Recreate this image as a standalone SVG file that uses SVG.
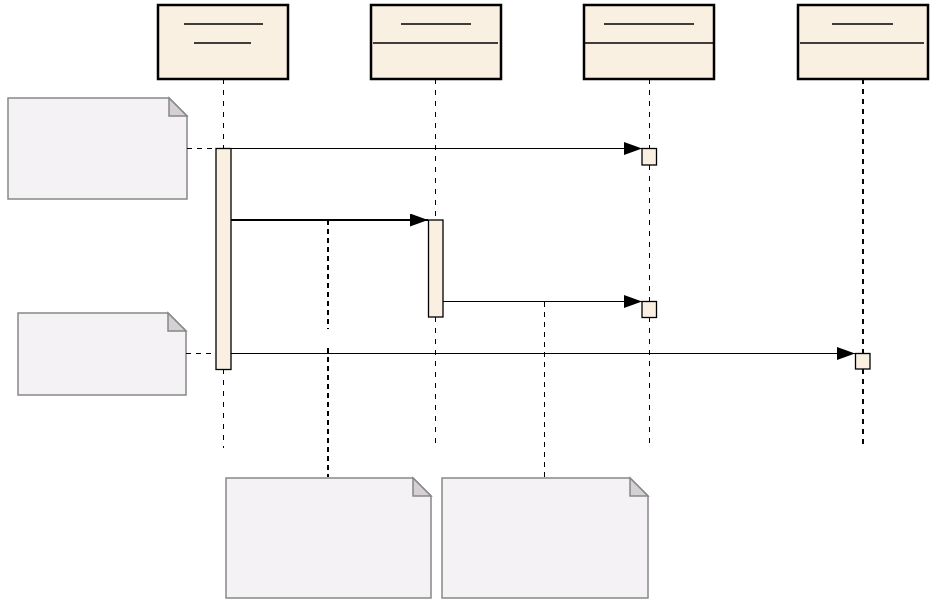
<svg xmlns="http://www.w3.org/2000/svg" width="933" height="606" viewBox="0 0 933 606">
<style>
.head{fill:#faf0e2;stroke:#000;stroke-width:2.5}
.ul{stroke:#000;stroke-width:1.3}
.life{stroke:#000;stroke-width:1;stroke-dasharray:5,6;fill:none}
.lifeb{stroke:#000;stroke-width:2;stroke-dasharray:5,5;fill:none}
.act{fill:#faf0e2;stroke:#000;stroke-width:1.3}
.msg{stroke:#000;stroke-width:1.2;fill:none}
.msgb{stroke:#000;stroke-width:2;fill:none}
.note{fill:#f5f2f5;stroke:#888;stroke-width:1.5}
.fold{fill:#d4d0d4;stroke:#888;stroke-width:1.5}
.nc{stroke:#000;stroke-width:1;stroke-dasharray:5,5;fill:none}
.ncb{stroke:#000;stroke-width:2;stroke-dasharray:5,4;fill:none}
</style>
<defs>
<marker id="arr" markerWidth="18" markerHeight="13" refX="18" refY="6.5" orient="auto" markerUnits="userSpaceOnUse">
<path d="M0,0 L18,6.5 L0,13 Z" fill="#000"/>
</marker>
</defs>
<g id="lifelines">
<path class="life" d="M223.5,79 V148 M223.5,369 V448"/>
<path class="life" d="M435.5,79 V220 M435.5,317 V448"/>
<path class="life" d="M649.5,79 V148 M649.5,165 V301 M649.5,317 V448"/>
<path class="lifeb" d="M863,79 V353 M863,369 V448"/>
</g>
<g id="obj1">
<rect class="head" x="158" y="5" width="130" height="74"/>
<line class="ul" x1="184" y1="24" x2="263" y2="24"/>
<line class="ul" x1="194" y1="43" x2="251" y2="43"/>
</g>
<g id="obj2">
<rect class="head" x="371" y="5" width="130" height="74"/>
<line class="ul" x1="401" y1="24" x2="471" y2="24"/>
<line class="ul" x1="373" y1="43" x2="498" y2="43"/>
</g>
<g id="obj3">
<rect class="head" x="584" y="5" width="130" height="74"/>
<line class="ul" x1="604" y1="24" x2="694" y2="24"/>
<line class="ul" x1="585" y1="43" x2="713" y2="43"/>
</g>
<g id="obj4">
<rect class="head" x="798" y="5" width="130" height="74"/>
<line class="ul" x1="832" y1="24" x2="893" y2="24"/>
<line class="ul" x1="800" y1="43" x2="924" y2="43"/>
</g>
<g id="note1">
<path class="note" d="M8,98 H169 L187,116 V199 H8 Z"/>
<path class="fold" d="M169,98 V116 H187 Z"/>
</g>
<g id="note2">
<path class="note" d="M18,313 H168 L186,331 V395 H18 Z"/>
<path class="fold" d="M168,313 V331 H186 Z"/>
</g>
<g id="note3">
<path class="note" d="M226,478 H413 L431,496 V598 H226 Z"/>
<path class="fold" d="M413,478 V496 H431 Z"/>
</g>
<g id="note4">
<path class="note" d="M442,478 H630 L648,496 V598 H442 Z"/>
<path class="fold" d="M630,478 V496 H648 Z"/>
</g>
<g id="connectors">
<line class="nc" x1="187" y1="148.5" x2="216" y2="148.5"/>
<line class="nc" x1="186" y1="353.5" x2="216" y2="353.5"/>
<path class="ncb" d="M328,220 V329 M328,348 V477"/>
<path class="nc" d="M544.5,302 V477"/>
<line class="msg" x1="231" y1="148.5" x2="642" y2="148.5" marker-end="url(#arr)"/>
<line class="msgb" x1="231" y1="220" x2="428" y2="220" marker-end="url(#arr)"/>
<line class="msg" x1="443" y1="301.5" x2="642" y2="301.5" marker-end="url(#arr)"/>
<line class="msg" x1="231" y1="353.5" x2="855" y2="353.5" marker-end="url(#arr)"/>
</g>
<g id="activations">
<rect class="act" x="216" y="148.5" width="15" height="221"/>
<rect class="act" x="428.5" y="220" width="14.5" height="97"/>
<rect class="act" x="642" y="148.5" width="14.5" height="16.5"/>
<rect class="act" x="642" y="301.5" width="14.5" height="16"/>
<rect class="act" x="855.5" y="353.5" width="14.5" height="15.5"/>
</g>
</svg>
